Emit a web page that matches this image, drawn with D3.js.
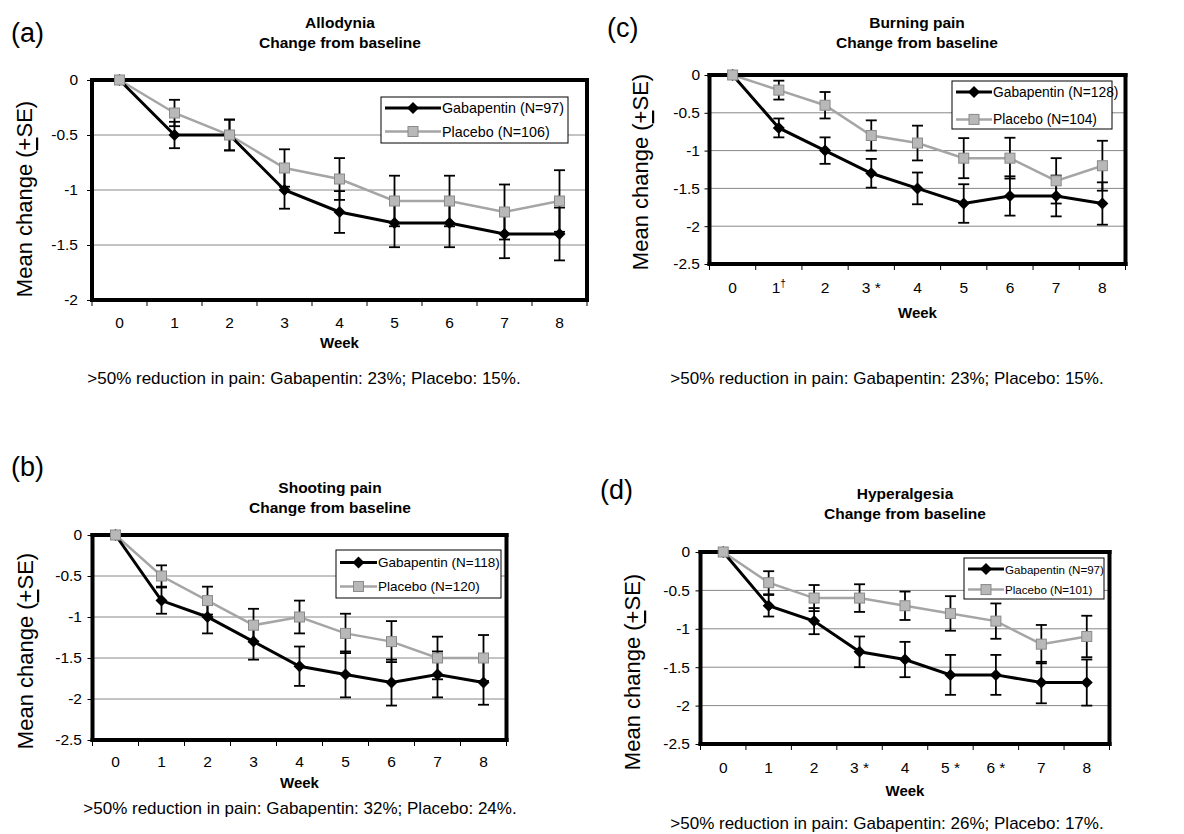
<!DOCTYPE html>
<html><head><meta charset="utf-8">
<script src="https://cdn.jsdelivr.net/npm/d3@7"></script>
<style>
body{margin:0;background:#fff}
svg{display:block;font-family:"Liberation Sans",Arial,Helvetica,sans-serif}
</style>
</head><body>
<svg id="chart" width="1184" height="834"></svg>
<script>
// ---------- data ----------
const weeks = [0, 1, 2, 3, 4, 5, 6, 7, 8];
const weekLabelsA = ["0", "1", "2", "3", "4", "5", "6", "7", "8"];
const weekLabelsB = ["0", "1", "2", "3", "4", "5", "6", "7", "8"];
const weekLabelsC = ["0", "1†", "2", "3 *", "4", "5", "6", "7", "8"];
const weekLabelsD = ["0", "1", "2", "3 *", "4", "5 *", "6 *", "7", "8"];
const yTicksA = [0, -0.5, -1, -1.5, -2];
const yTicks25 = [0, -0.5, -1, -1.5, -2, -2.5];

// (a) Allodynia
const allodyniaGaba   = [0, -0.5, -0.5, -1.0, -1.2, -1.3, -1.3, -1.4, -1.4];
const allodyniaGabaSE = [0, 0.12, 0.14, 0.17, 0.19, 0.22, 0.22, 0.22, 0.24];
const allodyniaPlac   = [0, -0.3, -0.5, -0.8, -0.9, -1.1, -1.1, -1.2, -1.1];
const allodyniaPlacSE = [0, 0.12, 0.14, 0.17, 0.19, 0.23, 0.23, 0.25, 0.28];
// (b) Shooting pain
const shootingGaba   = [0, -0.8, -1.0, -1.3, -1.6, -1.7, -1.8, -1.7, -1.8];
const shootingGabaSE = [0, 0.16, 0.2, 0.22, 0.24, 0.28, 0.28, 0.28, 0.27];
const shootingPlac   = [0, -0.5, -0.8, -1.1, -1.0, -1.2, -1.3, -1.5, -1.5];
const shootingPlacSE = [0, 0.13, 0.17, 0.2, 0.2, 0.24, 0.25, 0.26, 0.28];
// (c) Burning pain
const burningGaba   = [0, -0.7, -1.0, -1.3, -1.5, -1.7, -1.6, -1.6, -1.7];
const burningGabaSE = [0, 0.125, 0.175, 0.19, 0.21, 0.255, 0.26, 0.27, 0.28];
const burningPlac   = [0, -0.2, -0.4, -0.8, -0.9, -1.1, -1.1, -1.4, -1.2];
const burningPlacSE = [0, 0.125, 0.175, 0.2, 0.23, 0.265, 0.27, 0.3, 0.33];
// (d) Hyperalgesia
const hyperGaba   = [0, -0.7, -0.9, -1.3, -1.4, -1.6, -1.6, -1.7, -1.7];
const hyperGabaSE = [0, 0.14, 0.17, 0.2, 0.23, 0.26, 0.26, 0.27, 0.3];
const hyperPlac   = [0, -0.4, -0.6, -0.6, -0.7, -0.8, -0.9, -1.2, -1.1];
const hyperPlacSE = [0, 0.15, 0.17, 0.18, 0.185, 0.225, 0.23, 0.25, 0.27];

const legendA = ["Gabapentin (N=97)", "Placebo (N=106)"];
const legendB = ["Gabapentin (N=118)", "Placebo (N=120)"];
const legendC = ["Gabapentin (N=128)", "Placebo (N=104)"];
const legendD = ["Gabapentin (N=97)", "Placebo (N=101)"];

const captionA = ">50% reduction in pain: Gabapentin: 23%; Placebo: 15%.";
const captionB = ">50% reduction in pain: Gabapentin: 32%; Placebo: 24%.";
const captionC = ">50% reduction in pain: Gabapentin: 23%; Placebo: 15%.";
const captionD = ">50% reduction in pain: Gabapentin: 26%; Placebo: 17%.";

// ---------- layout ----------
const panels = [
  {letter: "(a)", title: "Allodynia", labels: weekLabelsA, yTicks: yTicksA, yMin: -2,
   gaba: allodyniaGaba, gabaSE: allodyniaGabaSE, plac: allodyniaPlac, placSE: allodyniaPlacSE,
   legend: legendA, caption: captionA,
   x0: 92, x1: 587, y0: 80, y1: 300,
   letterPos: [11, 42], titleX: 340, titleY: 27.5, ylab: [24, 199], labRight: 78,
   xlabC: 323, weekY: 348, capX: 304, capY: 384,
   leg: {x: 381, y: 97, w: 187, h: 46, fs: 14.3, ll: 56, r: [0.24, 0.75]}},
  {letter: "(b)", title: "Shooting pain", labels: weekLabelsB, yTicks: yTicks25, yMin: -2.5,
   gaba: shootingGaba, gabaSE: shootingGabaSE, plac: shootingPlac, placSE: shootingPlacSE,
   legend: legendB, caption: captionB,
   x0: 92.5, x1: 506.5, y0: 535, y1: 740,
   letterPos: [11, 476], titleX: 330, titleY: 493, ylab: [25, 651], labRight: 82,
   xlabC: 762, weekY: 788, capX: 300, capY: 814,
   leg: {x: 336, y: 550, w: 165, h: 48, fs: 13.5, ll: 37, r: [0.26, 0.76]}},
  {letter: "(c)", title: "Burning pain", labels: weekLabelsC, yTicks: yTicks25, yMin: -2.5,
   gaba: burningGaba, gabaSE: burningGabaSE, plac: burningPlac, placSE: burningPlacSE,
   legend: legendC, caption: captionC,
   x0: 709.5, x1: 1125.5, y0: 75, y1: 264,
   letterPos: [607, 37], titleX: 917, titleY: 27.5, ylab: [640, 172], labRight: 700,
   xlabC: 288, weekY: 318, capX: 887, capY: 384,
   leg: {x: 952, y: 81, w: 160, h: 48, fs: 13.8, ll: 36, r: [0.23, 0.8]}},
  {letter: "(d)", title: "Hyperalgesia", labels: weekLabelsD, yTicks: yTicks25, yMin: -2.5,
   gaba: hyperGaba, gabaSE: hyperGabaSE, plac: hyperPlac, placSE: hyperPlacSE,
   legend: legendD, caption: captionD,
   x0: 700.5, x1: 1109.5, y0: 552, y1: 744,
   letterPos: [600, 499], titleX: 905, titleY: 498.5, ylab: [632, 672], labRight: 690,
   xlabC: 768, weekY: 796, capX: 887, capY: 829,
   leg: {x: 964, y: 558, w: 140, h: 41, fs: 11.6, ll: 36, r: [0.27, 0.77]}}
];

const GRAY = "#a5a5a5";
const GRAY_DARK = "#8a8a8a";
const svg = d3.select("#chart");

function diamond(sel, r) {
  return sel.attr("d", `M0,${-r}L${r},0L0,${r}L${-r},0Z`);
}

panels.forEach(p => {
  const g = svg.append("g");
  const x = d3.scaleBand().domain(weeks).range([p.x0, p.x1]).padding(0);
  const y = d3.scaleLinear().domain([0, p.yMin]).range([p.y0, p.y1]);
  const cx = d => x(d) + x.bandwidth() / 2;

  // gridlines
  g.append("g").selectAll("line")
    .data(p.yTicks.filter(t => t !== 0 && t !== p.yMin))
    .join("line")
    .attr("x1", p.x0).attr("x2", p.x1)
    .attr("y1", d => y(d)).attr("y2", d => y(d))
    .attr("stroke", "#888").attr("stroke-width", 1);

  // y axis
  const ya = d3.axisLeft(y).tickValues(p.yTicks).tickFormat(d => String(d))
    .tickSize(5).tickPadding(p.x0 - p.labRight - 5);
  const yg = g.append("g").attr("transform", `translate(${p.x0},0)`).call(ya);
  yg.select(".domain").remove();
  yg.selectAll("text").attr("font-size", 15.5).attr("font-family", null).attr("fill", "#000");
  yg.selectAll("line").attr("stroke", "#000");

  // x axis labels (ticks at category boundaries drawn below)
  const xa = d3.axisBottom(x).tickFormat((d, i) => p.labels[i]).tickSize(0)
    .tickPadding(p.xlabC - p.y1 - 6);
  const xg = g.append("g").attr("transform", `translate(0,${p.y1})`).call(xa);
  xg.select(".domain").remove();
  xg.selectAll("text").attr("font-size", 15.5).attr("font-family", null).attr("fill", "#000")
    .each(function(d, i) {
      const lab = p.labels[i];
      if (lab.includes("†")) {
        const t = d3.select(this).text(lab.replace("†", ""));
        t.append("tspan").attr("font-size", 10).attr("dy", "-0.6em").text("†");
      }
    });
  const bounds = weeks.map(d => x(d)).concat([x.range()[1]]);
  g.append("g").selectAll("line").data(bounds).join("line")
    .attr("x1", d => d).attr("x2", d => d)
    .attr("y1", p.y1).attr("y2", p.y1 + 6)
    .attr("stroke", "#000").attr("stroke-width", 1);

  const line = d3.line().x((d, i) => cx(weeks[i])).y(d => y(d));

  // lines
  g.append("path").datum(p.plac).attr("d", line)
    .attr("fill", "none").attr("stroke", GRAY).attr("stroke-width", 2.5);
  g.append("path").datum(p.gaba).attr("d", line)
    .attr("fill", "none").attr("stroke", "#000").attr("stroke-width", 3);

  // frame (four heavy sides)
  const fx = x.range(), fy = y.range();
  const sides = [
    [fx[0], fy[0], fx[1], fy[0]], [fx[1], fy[0], fx[1], fy[1]],
    [fx[1], fy[1], fx[0], fy[1]], [fx[0], fy[1], fx[0], fy[0]]
  ];
  g.append("g").selectAll("line").data(sides).join("line")
    .attr("x1", d => d[0]).attr("y1", d => d[1]).attr("x2", d => d[2]).attr("y2", d => d[3])
    .style("stroke", "#000").style("stroke-width", "4px").style("stroke-linecap", "square");

  // error bars
  const bars = [];
  weeks.forEach((w, i) => {
    if (p.gabaSE[i] > 0) bars.push({w, m: p.gaba[i], se: p.gabaSE[i]});
    if (p.placSE[i] > 0) bars.push({w, m: p.plac[i], se: p.placSE[i]});
  });
  const eb = g.append("g").attr("stroke", "#000").attr("stroke-width", 1.8);
  eb.selectAll("line.v").data(bars).join("line").attr("class", "v")
    .attr("x1", d => cx(d.w)).attr("x2", d => cx(d.w))
    .attr("y1", d => y(d.m + d.se)).attr("y2", d => y(d.m - d.se));
  eb.selectAll("line.t").data(bars).join("line").attr("class", "t")
    .attr("x1", d => cx(d.w) - 5.5).attr("x2", d => cx(d.w) + 5.5)
    .attr("y1", d => y(d.m + d.se)).attr("y2", d => y(d.m + d.se));
  eb.selectAll("line.b").data(bars).join("line").attr("class", "b")
    .attr("x1", d => cx(d.w) - 5.5).attr("x2", d => cx(d.w) + 5.5)
    .attr("y1", d => y(d.m - d.se)).attr("y2", d => y(d.m - d.se));

  // markers
  g.append("g").selectAll("path").data(p.gaba).join("path")
    .call(diamond, 6)
    .attr("transform", (d, i) => `translate(${cx(weeks[i])},${y(d)})`)
    .attr("fill", "#000");
  g.append("g").selectAll("rect").data(p.plac).join("rect")
    .attr("x", (d, i) => cx(weeks[i]) - 5).attr("y", d => y(d) - 5)
    .attr("width", 10).attr("height", 10)
    .attr("fill", "#b8b8b8").attr("stroke", GRAY_DARK).attr("stroke-width", 1);

  // legend
  const L = p.leg;
  const lg = g.append("g");
  lg.append("rect").attr("x", L.x).attr("y", L.y).attr("width", L.w).attr("height", L.h)
    .attr("fill", "#fff").attr("stroke", "#000").attr("stroke-width", 1);
  const rowY = [L.y + L.h * L.r[0], L.y + L.h * L.r[1]];
  const lx1 = L.x + 4, lx2 = L.x + 4 + L.ll, lm = (lx1 + lx2) / 2;
  lg.append("line").attr("x1", lx1).attr("x2", lx2).attr("y1", rowY[0]).attr("y2", rowY[0])
    .attr("stroke", "#000").attr("stroke-width", 3);
  lg.append("path").call(diamond, 6).attr("transform", `translate(${lm},${rowY[0]})`).attr("fill", "#000");
  lg.append("line").attr("x1", lx1).attr("x2", lx2).attr("y1", rowY[1]).attr("y2", rowY[1])
    .attr("stroke", GRAY).attr("stroke-width", 2.5);
  lg.append("rect").attr("x", lm - 5).attr("y", rowY[1] - 5).attr("width", 10).attr("height", 10)
    .attr("fill", "#b8b8b8").attr("stroke", GRAY_DARK);
  lg.selectAll("text").data(p.legend).join("text")
    .attr("x", lx2 + 1).attr("y", (d, i) => rowY[i])
    .attr("dominant-baseline", "central").attr("font-size", L.fs).text(d => d);

  // titles
  g.append("text").attr("x", p.letterPos[0]).attr("y", p.letterPos[1])
    .attr("font-size", 27).text(p.letter);
  g.append("text").attr("x", p.titleX).attr("y", p.titleY).attr("text-anchor", "middle")
    .attr("font-size", 15.5).attr("font-weight", "bold").text(p.title);
  g.append("text").attr("x", p.titleX).attr("y", p.titleY + 20).attr("text-anchor", "middle")
    .attr("font-size", 15.5).attr("font-weight", "bold").text("Change from baseline");

  // y label
  const yl = g.append("text")
    .attr("transform", `translate(${p.ylab[0]},${p.ylab[1]}) rotate(-90)`)
    .attr("text-anchor", "middle").attr("dominant-baseline", "central")
    .attr("font-size", 22);
  yl.append("tspan").text("Mean change (");
  yl.append("tspan").attr("text-decoration", "underline").text("+");
  yl.append("tspan").text("SE)");

  // week label
  g.append("text").attr("x", (p.x0 + p.x1) / 2).attr("y", p.weekY).attr("text-anchor", "middle")
    .attr("font-size", 15).attr("font-weight", "bold").text("Week");

  // caption
  g.append("text").attr("x", p.capX).attr("y", p.capY).attr("text-anchor", "middle")
    .attr("font-size", 17).text(p.caption);
});
</script>
</body></html>
